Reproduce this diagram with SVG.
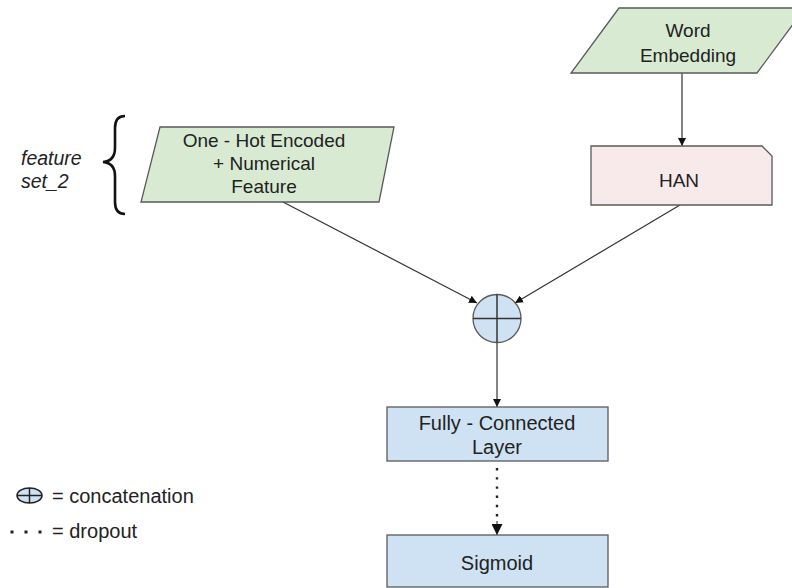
<svg xmlns="http://www.w3.org/2000/svg" width="792" height="588" viewBox="0 0 792 588">
  <style>
    text { font-family: "Liberation Sans", Arial, sans-serif; fill: #222; text-anchor: middle; }
    .t18 { font-size: 19px; }
    .t20 { font-size: 20px; }
    .green { fill: #d9ead3; stroke: #5a5a5a; stroke-width: 1.3; }
    .pink { fill: #f8eaea; stroke: #5a5a5a; stroke-width: 1.3; }
    .blue { fill: #cfe2f3; stroke: #5a5a5a; stroke-width: 1.3; }
    .edge { stroke: #333; stroke-width: 1.2; fill: none; }
    .legend { font-size: 20px; text-anchor: start; }
  </style>
  <defs>
    <marker id="arr" viewBox="0 0 10 10" refX="10" refY="5" markerWidth="8" markerHeight="8" markerUnits="userSpaceOnUse" orient="auto">
      <path d="M0,0 L10,5 L0,10 z" fill="#111"/>
    </marker>
    <marker id="arrBig" viewBox="0 0 10 10" refX="10" refY="5" markerWidth="13" markerHeight="11" markerUnits="userSpaceOnUse" orient="auto">
      <path d="M0,0 L10,5 L0,10 z" fill="#111"/>
    </marker>
  </defs>

  <g id="connectors">
    <line class="edge" x1="682" y1="73" x2="682" y2="146" marker-end="url(#arr)"/>
    <line class="edge" x1="283" y1="202" x2="477" y2="303" marker-end="url(#arr)"/>
    <line class="edge" x1="680" y1="205" x2="515" y2="303" marker-end="url(#arr)"/>
    <line class="edge" x1="497" y1="343" x2="497" y2="407" marker-end="url(#arr)"/>
    <line x1="497" y1="468" x2="497" y2="521" stroke="#222" stroke-width="2.4" stroke-dasharray="2.4 6.8"/>
    <line x1="497" y1="521" x2="497" y2="535" stroke="#222" stroke-width="1" marker-end="url(#arrBig)"/>
  </g>

  <g id="word-embedding">
    <polygon class="green" points="619,8 805,8 757,73 571,73"/>
    <text class="t18" x="688" y="37">Word</text>
    <text class="t18" x="688" y="62">Embedding</text>
  </g>

  <g id="han">
    <polygon class="pink" points="591,146 762,146 772,156 772,205 591,205"/>
    <text class="t18" x="679" y="187">HAN</text>
  </g>

  <g id="one-hot">
    <polygon class="green" points="160,127 394,127 379,202 141,202"/>
    <text class="t18" x="264" y="147">One - Hot Encoded</text>
    <text class="t18" x="264" y="170">+ Numerical</text>
    <text class="t18" x="264" y="193">Feature</text>
  </g>

  <g id="feature-set-label">
    <path d="M125,116 Q115,116 115,128 L115,148 Q115,161 103,162 Q115,163 115,176 L115,202 Q115,214 125,214" fill="none" stroke="#111" stroke-width="2.6"/>
    <text x="21" y="165" style="font-size:19.5px;font-style:italic;text-anchor:start">feature</text>
    <text x="21" y="188" style="font-size:19.5px;font-style:italic;text-anchor:start">set_2</text>
  </g>

  <g id="concat">
    <circle class="blue" cx="497" cy="318.5" r="24"/>
    <line x1="473" y1="318.5" x2="521" y2="318.5" stroke="#333" stroke-width="1.5"/>
    <line x1="497" y1="294.5" x2="497" y2="342.5" stroke="#333" stroke-width="1.5"/>
  </g>

  <g id="fully-connected">
    <rect class="blue" x="387" y="407" width="221" height="54"/>
    <text class="t20" x="497" y="430">Fully - Connected</text>
    <text class="t20" x="497" y="454">Layer</text>
  </g>

  <g id="sigmoid">
    <rect class="blue" x="387" y="535" width="221" height="52"/>
    <text class="t20" x="497" y="570">Sigmoid</text>
  </g>

  <g id="legend">
    <ellipse cx="29.5" cy="495.5" rx="12.5" ry="7.5" fill="#cfe2f3" stroke="#222" stroke-width="1.5"/>
    <line x1="17" y1="495.5" x2="42" y2="495.5" stroke="#222" stroke-width="1.5"/>
    <line x1="29.5" y1="488" x2="29.5" y2="503" stroke="#222" stroke-width="1.5"/>
    <text class="legend" x="52" y="503">= concatenation</text>
    <rect x="10.5" y="530.5" width="3" height="3" fill="#222"/>
    <rect x="24.5" y="530.5" width="3" height="3" fill="#222"/>
    <rect x="38.5" y="530.5" width="3" height="3" fill="#222"/>
    <text class="legend" x="52" y="538">= dropout</text>
  </g>
</svg>
